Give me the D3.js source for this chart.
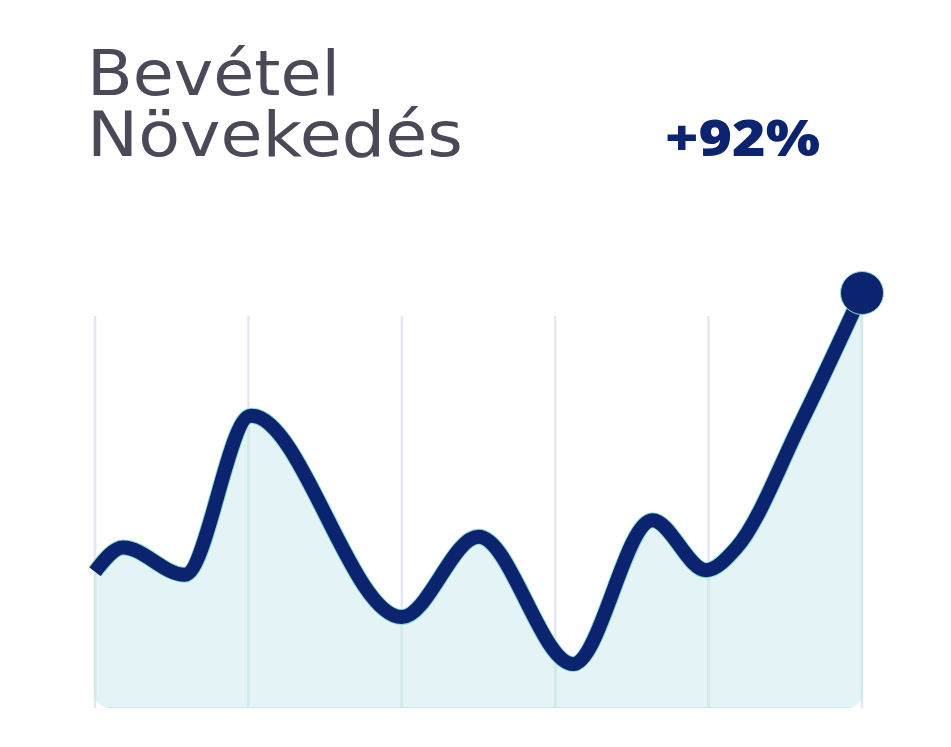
<!DOCTYPE html>
<html>
<head>
<meta charset="utf-8">
<script src="https://cdn.jsdelivr.net/npm/d3@7"></script>
<style>
  html, body { margin: 0; padding: 0; background: #ffffff; }
  svg { display: block; }
</style>
</head>
<body>
<svg id="chart" width="951" height="747"></svg>
<script>
// ---- data ----
const titleLines = ["Bevétel", "Növekedés"];
const growthLabel = "+92%";
const days   = [0, 1.1, 3.5, 6.1, 12.0, 15.0, 18.7, 21.8, 23.9, 25.1, 27.6, 30];
const values = [100, 108, 99, 151.5, 85, 111.5, 69.5, 117, 100.5, 108, 149, 192];
const gridTicks = [0, 6, 12, 18, 24, 30];

const data = days.map((d, i) => ({ x: d, y: values[i] }));

const svg = d3.select("#chart");
const navy = "#0c2470";

const x = d3.scaleLinear().domain([0, 30]).range([95, 862]);
const y = d3.scaleLinear().domain([55, 192]).range([708, 293]);

// title
const title = svg.append("g").attr("font-family", "'DejaVu Sans', sans-serif").attr("fill", "#4b4858");
title.append("text").attr("x", 87).attr("y", 95).attr("font-size", 63)
  .attr("textLength", 253).attr("lengthAdjust", "spacingAndGlyphs").text(titleLines[0]);
title.append("text").attr("x", 87).attr("y", 156).attr("font-size", 63)
  .attr("textLength", 376).attr("lengthAdjust", "spacingAndGlyphs").text(titleLines[1]);

svg.append("text").attr("x", 665).attr("y", 156)
  .attr("font-family", "'Open Sans', sans-serif").attr("font-weight", 800)
  .attr("font-size", 49).attr("fill", navy)
  .attr("textLength", 155).attr("lengthAdjust", "spacingAndGlyphs")
  .text(growthLabel);

const curve = d3.curveMonotoneX;
const area = d3.area().x(d => x(d.x)).y0(y(55)).y1(d => y(d.y)).curve(curve);
const line = d3.line().x(d => x(d.x)).y(d => y(d.y)).curve(curve);

// grid lines
svg.append("g").selectAll("line").data(gridTicks).join("line")
  .attr("x1", d => x(d)).attr("x2", d => x(d))
  .attr("y1", 316).attr("y2", y(55))
  .attr("stroke", "#e8e6f3").attr("stroke-width", 2.5);

// clips
const defs = svg.append("defs");
defs.append("clipPath").attr("id", "areaClip")
  .append("rect")
  .attr("x", x(0) - 1).attr("y", 0)
  .attr("width", x(30) - x(0) + 2).attr("height", y(55))
  .attr("rx", 16).attr("ry", 16);
defs.append("clipPath").attr("id", "underCurve")
  .append("path").datum(data).attr("d", area);

svg.append("path").datum(data)
  .attr("clip-path", "url(#areaClip)")
  .attr("d", area)
  .attr("fill", "#b4dfe2").attr("fill-opacity", 0.36)
  .attr("stroke", "#cfeae6").attr("stroke-width", 2);

// grid lines seen through the area
svg.append("g").attr("clip-path", "url(#underCurve)")
  .append("g").attr("clip-path", "url(#areaClip)")
  .selectAll("line").data(gridTicks).join("line")
  .attr("x1", d => x(d)).attr("x2", d => x(d))
  .attr("y1", 316).attr("y2", y(55))
  .attr("stroke", "#d2ebe5").attr("stroke-width", 2.5);

// line with halo
svg.append("path").datum(data).attr("d", line)
  .attr("fill", "none").attr("stroke", "#8fdcc8").attr("stroke-width", 16)
  .attr("stroke-linejoin", "round");
svg.append("path").datum(data).attr("d", line)
  .attr("fill", "none").attr("stroke", navy).attr("stroke-width", 14)
  .attr("stroke-linejoin", "round");

const last = data[data.length - 1];
svg.append("circle").attr("cx", x(last.x)).attr("cy", y(last.y)).attr("r", 21.5)
  .attr("fill", navy).attr("stroke", "#8fdcc8").attr("stroke-width", 1);
</script>
</body>
</html>
